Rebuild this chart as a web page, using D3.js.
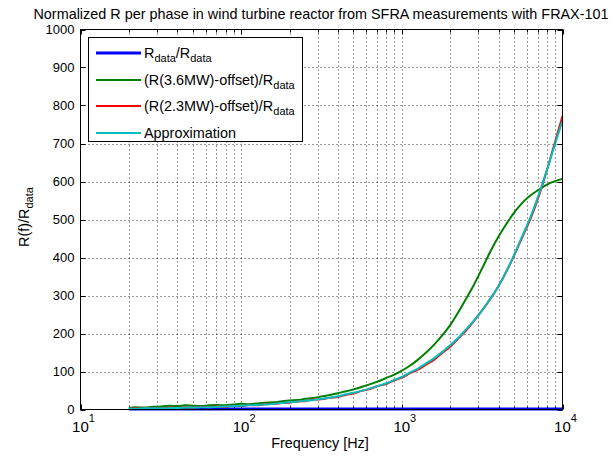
<!DOCTYPE html>
<html><head><meta charset="utf-8">
<script src="https://cdn.jsdelivr.net/npm/d3@7"></script>
<style>body{margin:0;background:#fff;} text{font-family:"Liberation Sans",Arial,Helvetica,sans-serif;}</style>
</head><body>
<svg id="c" width="613" height="457"></svg>
<script>
const freq = [20,22,25,28,32,36,40,45,50,56,63,71,80,90,100,112,125,140,160,180,200,225,250,280,315,355,400,450,500,560,630,710,800,900,1000,1120,1250,1400,1600,1800,2000,2240,2500,2800,3150,3550,4000,4500,5000,5600,6300,7100,8000,9000,10000];
const rData = freq.map(() => 1);
const r36 = [4,6,5,7,8,10,9,11,10,9,11,12,11,13,15,14,16,18,19,22,24,25,28,30,34,38,43,48,53,59,66,74,83,92,102,115,130,148,172,197,222,255,290,327,370,415,455,490,518,543,563,578,592,601,607];
const r23 = [1,3,2,4,3,5,4,6,5,7,6,8,7,10,9,12,11,14,15,17,18,21,22,26,27,31,33,39,42,49,54,62,67,77,84,95,104,117,132,150,165,186,207,232,260,290,325,365,405,452,500,560,630,705,772];
const approx = [2,2,3,3,3,4,4,5,5,6,6,7,8,9,10,11,12,13,15,17,19,21,23,25,28,31,35,40,44,49,55,62,69,78,86,97,107,120,136,153,169,188,210,233,260,292,325,366,407,455,505,565,630,700,760];
const yTicks = [0,100,200,300,400,500,600,700,800,900,1000];
const xDecades = [10,100,1000,10000];
const seriesNames = ["data/R", "(R(3.6MW)-offset)/R", "(R(2.3MW)-offset)/R", "Approximation"];
const colors = ["#0000ff","#008000","#ff0000","#00bfbf"];

const svg = d3.select("#c");
const L=80.5, R=562.5, T=29.5, B=409.5;
const x = d3.scaleLog().domain([10,10000]).range([L,R]);
const y = d3.scaleLinear().domain([0,1000]).range([B,T]);

const minor = [];
for (const d of [10,100,1000]) for (let k=2;k<=9;k++) minor.push(d*k);
const g = svg.append("g");
g.selectAll(".gx").data(minor.concat([100,1000])).join("line")
 .attr("x1",d=>Math.round(x(d))+0.5).attr("x2",d=>Math.round(x(d))+0.5).attr("y1",T).attr("y2",B)
 .attr("stroke","#000").attr("stroke-width",1).attr("stroke-dasharray","1,3").attr("opacity",0.8);
g.selectAll(".gy").data(yTicks.slice(1,-1)).join("line")
 .attr("y1",d=>Math.round(y(d))+0.5).attr("y2",d=>Math.round(y(d))+0.5).attr("x1",L).attr("x2",R)
 .attr("stroke","#000").attr("stroke-width",1).attr("stroke-dasharray","1,3").attr("opacity",0.8);

const tk = svg.append("g").attr("stroke","#000").attr("stroke-width",1);
yTicks.forEach(v=>{const yy=Math.round(y(v))+0.5;
 tk.append("line").attr("x1",L).attr("x2",L+5).attr("y1",yy).attr("y2",yy);
 tk.append("line").attr("x1",R-5).attr("x2",R).attr("y1",yy).attr("y2",yy);});
xDecades.forEach(v=>{const xx=Math.round(x(v))+0.5;
 tk.append("line").attr("x1",xx).attr("x2",xx).attr("y1",B).attr("y2",B-5);
 tk.append("line").attr("x1",xx).attr("x2",xx).attr("y1",T).attr("y2",T+5);});
minor.forEach(v=>{const xx=Math.round(x(v))+0.5;
 tk.append("line").attr("x1",xx).attr("x2",xx).attr("y1",B).attr("y2",B-3);
 tk.append("line").attr("x1",xx).attr("x2",xx).attr("y1",T).attr("y2",T+3);});

const line = d3.line().x((d,i)=>x(freq[i])).y(d=>y(d)).curve(d3.curveMonotoneX);
const data = [rData,r36,r23,approx];
const widths = [3,2,2,2];
data.forEach((s,i)=>{
 svg.append("path").attr("d",line(s)).attr("fill","none").attr("stroke",colors[i]).attr("stroke-width",widths[i]).attr("stroke-linejoin","round");
});

svg.append("rect").attr("x",L).attr("y",T).attr("width",R-L).attr("height",B-T).attr("fill","none").attr("stroke","#000").attr("stroke-width",1);

svg.append("g").selectAll("text").data(yTicks).join("text")
 .attr("x",L-6).attr("y",d=>y(d)+4.5).attr("text-anchor","end").attr("font-size",13).attr("fill","#000").text(d=>d);
xDecades.forEach(v=>{
 const t = svg.append("text").attr("x",x(v)+3).attr("y",432).attr("text-anchor","middle").attr("font-size",15).attr("fill","#000");
 t.append("tspan").text("10");
 t.append("tspan").attr("dy",-10).attr("font-size",11).text(Math.round(Math.log10(v)));
});
svg.append("text").attr("x",321).attr("y",19).attr("text-anchor","middle").attr("font-size",14.4).attr("fill","#000")
 .text("Normalized R per phase in wind turbine reactor from SFRA measurements with FRAX-101");
svg.append("text").attr("x",320).attr("y",448).attr("text-anchor","middle").attr("font-size",14.4).attr("fill","#000").text("Frequency [Hz]");
const yl = svg.append("text").attr("transform","translate(29,217) rotate(-90)").attr("text-anchor","middle").attr("font-size",14.4).attr("fill","#000");
yl.append("tspan").text("R(f)/R");
yl.append("tspan").attr("dy",4).attr("font-size",11).text("data");

const lg = svg.append("g");
lg.append("rect").attr("x",88.5).attr("y",37.5).attr("width",214).attr("height",104).attr("fill","#fff").attr("stroke","#000");
const ly = [53,80,106,133];
seriesNames.forEach((n,i)=>{
 lg.append("line").attr("x1",96).attr("x2",141).attr("y1",ly[i]).attr("y2",ly[i]).attr("stroke",colors[i]).attr("stroke-width",widths[i]);
 const t = lg.append("text").attr("x",144).attr("y",ly[i]+5).attr("font-size",14.4).attr("fill","#000");
 if(i===0){
  t.append("tspan").text("R");
  t.append("tspan").attr("dy",4).attr("font-size",11).text("data");
  t.append("tspan").attr("dy",-4).text("/R");
  t.append("tspan").attr("dy",4).attr("font-size",11).text("data");
 } else if(i<3){
  t.append("tspan").text(n);
  t.append("tspan").attr("dy",4).attr("font-size",11).text("data");
 } else t.text(n);
});
</script>
</body></html>
